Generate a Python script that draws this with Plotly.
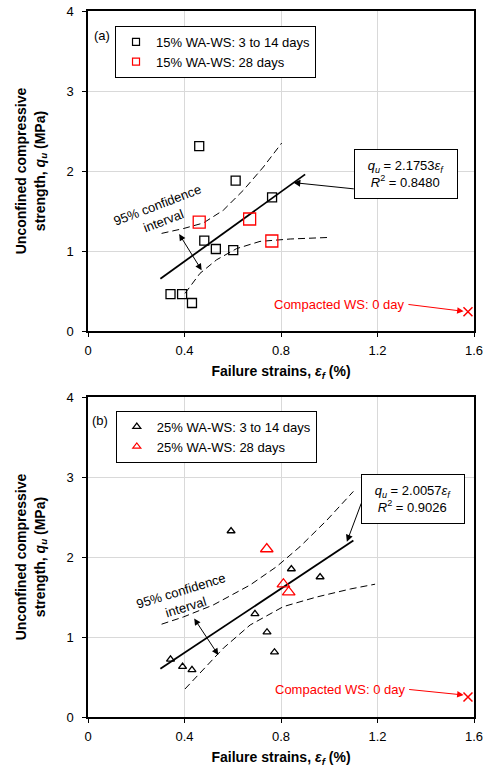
import plotly.graph_objects as go

# ---- Panel (a): 15% WA-WS ----
strain_a_early = [0.342, 0.39, 0.431, 0.482, 0.53, 0.602, 0.763, 0.612, 0.461]
qu_a_early = [0.46, 0.46, 0.35, 1.13, 1.025, 1.01, 1.67, 1.88, 2.31]
strain_a_28 = [0.461, 0.67, 0.762]
qu_a_28 = [1.36, 1.40, 1.125]
slope_a = 2.1753
r2_a = 0.8480
fit_a_range = [0.30, 0.90]
ci_a_upper_x = [0.305, 0.395, 0.478, 0.561, 0.644, 0.727, 0.803]
ci_a_upper_y = [1.22, 1.28, 1.35, 1.51, 1.76, 2.05, 2.35]
ci_a_lower_x = [0.402, 0.464, 0.533, 0.616, 0.713, 0.838, 1.004]
ci_a_lower_y = [0.47, 0.72, 0.89, 1.03, 1.12, 1.15, 1.17]

# ---- Panel (b): 25% WA-WS ----
strain_b_early = [0.342, 0.392, 0.431, 0.692, 0.742, 0.773, 0.593, 0.843, 0.962]
qu_b_early = [0.72, 0.63, 0.59, 1.29, 1.06, 0.81, 2.325, 1.85, 1.75]
strain_b_28 = [0.741, 0.81, 0.832]
qu_b_28 = [2.10, 1.66, 1.56]
slope_b = 2.0057
r2_b = 0.9026
fit_b_range = [0.30, 1.10]
ci_b_upper_x = [0.305, 0.395, 0.519, 0.672, 0.782, 0.879, 0.99, 1.10]
ci_b_upper_y = [1.16, 1.25, 1.40, 1.65, 1.88, 2.13, 2.46, 2.82]
ci_b_lower_x = [0.402, 0.478, 0.561, 0.672, 0.81, 0.948, 1.087, 1.19]
ci_b_lower_y = [0.35, 0.59, 0.86, 1.15, 1.38, 1.50, 1.60, 1.66]

# ---- Compacted WS at 0 day ----
strain_ws = [1.575]
qu_ws_a = [0.24]
qu_ws_b = [0.25]

x_ticks = [0, 0.4, 0.8, 1.2, 1.6]
y_ticks = [0, 1, 2, 3, 4]

FONT = "Liberation Sans, Arial, sans-serif"
DASH = "7px,4px"
FS = 13

fig = go.Figure()


def add_panel(xa, ya, legend, label, early_x, early_y, late_x, late_y,
              sym, size_early, size_late, slope, fit_rng,
              up_x, up_y, lo_x, lo_y, ws_y):
    # confidence band
    fig.add_trace(go.Scatter(x=up_x, y=up_y, mode="lines", xaxis=xa, yaxis=ya,
                             line=dict(color="black", width=1, dash=DASH),
                             showlegend=False, hoverinfo="skip"))
    fig.add_trace(go.Scatter(x=lo_x, y=lo_y, mode="lines", xaxis=xa, yaxis=ya,
                             line=dict(color="black", width=1, dash=DASH),
                             showlegend=False, hoverinfo="skip"))
    # regression line through origin
    fig.add_trace(go.Scatter(x=fit_rng, y=[slope * v for v in fit_rng], mode="lines",
                             xaxis=xa, yaxis=ya, line=dict(color="black", width=1.8),
                             showlegend=False))
    # measured data
    fig.add_trace(go.Scatter(x=early_x, y=early_y, mode="markers", xaxis=xa, yaxis=ya,
                             marker=dict(symbol=sym, size=size_early, color="black",
                                         line=dict(color="black", width=1.3)),
                             showlegend=False))
    fig.add_trace(go.Scatter(x=late_x, y=late_y, mode="markers", xaxis=xa, yaxis=ya,
                             marker=dict(symbol=sym, size=size_late, color="red",
                                         line=dict(color="red", width=1.3)),
                             showlegend=False))
    fig.add_trace(go.Scatter(x=strain_ws, y=ws_y, mode="markers", xaxis=xa, yaxis=ya,
                             marker=dict(symbol="x-thin-open", size=9, color="red",
                                         line=dict(color="red", width=1.5)),
                             showlegend=False))
    # legend entries
    for name, col in [(f"{label}: 3 to 14 days", "black"), (f"{label}: 28 days", "red")]:
        fig.add_trace(go.Scatter(x=[None], y=[None], mode="markers", xaxis=xa, yaxis=ya,
                                 name=name, legend=legend,
                                 marker=dict(symbol=sym, size=7, color=col,
                                             line=dict(color=col, width=1.2))))


add_panel("x", "y", "legend", "15% WA-WS", strain_a_early, qu_a_early, strain_a_28, qu_a_28,
          "square-open", 9, 12, slope_a, fit_a_range,
          ci_a_upper_x, ci_a_upper_y, ci_a_lower_x, ci_a_lower_y, qu_ws_a)
add_panel("x2", "y2", "legend2", "25% WA-WS", strain_b_early, qu_b_early, strain_b_28, qu_b_28,
          "triangle-up-open", 7, 11, slope_b, fit_b_range,
          ci_b_upper_x, ci_b_upper_y, ci_b_lower_x, ci_b_lower_y, qu_ws_b)

axis_common = dict(range=[0, 1.6], tickvals=x_ticks, showgrid=True, gridcolor="#d9d9d9",
                   gridwidth=1, zeroline=False, showline=True, linecolor="black",
                   linewidth=1.5, mirror=True, ticks="outside", ticklen=4,
                   tickcolor="black", tickfont=dict(size=FS, color="black"),
                   ticklabelstandoff=3, automargin=False)
yaxis_common = dict(range=[0, 4], tickvals=y_ticks, showgrid=True, gridcolor="#d9d9d9",
                    gridwidth=1, zeroline=False, showline=True, linecolor="black",
                    linewidth=1.5, mirror=True, ticks="outside", ticklen=4,
                    tickcolor="black", tickfont=dict(size=FS, color="black"),
                    ticklabelstandoff=6, automargin=False)
x_title = dict(text="<b>Failure strains, <i>ε<sub>f</sub></i> (%)</b>",
               font=dict(size=14, color="black"), standoff=9)
y_title = dict(text="<b>Unconfined compressive<br>strength, <i>q<sub>u</sub></i> (MPa)</b>",
               font=dict(size=14, color="black"), standoff=18)

top_dom = [386 / 706, 1]
bot_dom = [0, 320 / 706]

legend_common = dict(xanchor="left", yanchor="top", bgcolor="white",
                     bordercolor="black", borderwidth=1, font=dict(size=FS, color="black"),
                     tracegroupgap=0)

fig.update_layout(
    width=492, height=769,
    margin=dict(l=88, r=18, t=11, b=52, autoexpand=False),
    paper_bgcolor="white", plot_bgcolor="white",
    font=dict(family=FONT, color="black"),
    xaxis=dict(axis_common, domain=[0, 1], anchor="y", title=x_title),
    yaxis=dict(yaxis_common, domain=top_dom, anchor="x", title=y_title),
    xaxis2=dict(axis_common, domain=[0, 1], anchor="y2", title=x_title),
    yaxis2=dict(yaxis_common, domain=bot_dom, anchor="x2", title=y_title),
    legend=dict(legend_common, x=0.07, y=0.979),
    legend2=dict(legend_common, x=0.072, y=0.434),
)


def panel_notes(xa, ya, tag, slope, r2, box_xy, arr_from, arr_to,
                ci_xy, ci_angle, dbl_from, dbl_to, ws_text_xy, ws_tip):
    dom = f"{xa} domain"
    ydom = f"{ya} domain"
    fig.add_annotation(xref=dom, yref=ydom, x=tag[1], y=tag[2], text=tag[0],
                       showarrow=False, font=dict(size=FS), xanchor="center", yanchor="middle")
    # equation box
    fig.add_annotation(xref=xa, yref=ya, x=box_xy[0], y=box_xy[1],
                       text=(f"<i>q<sub>u</sub></i> = {slope:.4f}<i>ε<sub>f</sub></i><br>"
                             f"<i>R</i><sup>2</sup> = {r2:.4f}"),
                       showarrow=False, bgcolor="white", bordercolor="black", borderwidth=1,
                       borderpad=4, width=94, height=40, font=dict(size=FS), align="center")
    fig.add_annotation(xref=xa, yref=ya, axref=xa, ayref=ya, x=arr_to[0], y=arr_to[1],
                       ax=arr_from[0], ay=arr_from[1], text="", showarrow=True,
                       arrowhead=2, arrowsize=1.4, arrowwidth=1, arrowcolor="black")
    # confidence band label and double arrow
    fig.add_annotation(xref=xa, yref=ya, x=ci_xy[0], y=ci_xy[1],
                       text="95% confidence<br>interval", showarrow=False,
                       textangle=ci_angle, font=dict(size=FS), align="center")
    fig.add_annotation(xref=xa, yref=ya, axref=xa, ayref=ya, x=dbl_to[0], y=dbl_to[1],
                       ax=dbl_from[0], ay=dbl_from[1], text="", showarrow=True,
                       arrowhead=2, startarrowhead=2, arrowside="end+start",
                       arrowsize=1.3, startarrowsize=1.3, arrowwidth=1, arrowcolor="black")
    # compacted WS note
    fig.add_annotation(xref=xa, yref=ya, x=ws_text_xy[0], y=ws_text_xy[1],
                       text="Compacted WS: 0 day", showarrow=False, xanchor="right",
                       yanchor="middle", font=dict(size=FS, color="red"))
    fig.add_annotation(xref=xa, yref=ya, axref=xa, ayref=ya, x=ws_tip[0], y=ws_tip[1],
                       ax=ws_text_xy[0], ay=ws_text_xy[1], text="", showarrow=True,
                       arrowhead=2, arrowsize=1.3, arrowwidth=1, arrowcolor="red")


panel_notes("x", "y", ("(a)", 0.036, 0.923), slope_a, r2_a, (1.32, 1.96),
            (1.108, 1.775), (0.851, 1.855), (0.30, 1.48), -21,
            (0.374, 1.23), (0.471, 0.76), (1.322, 0.334), (1.557, 0.246))
panel_notes("x2", "y2", ("(b)", 0.031, 0.928), slope_b, r2_b, (1.346, 2.73),
            (1.135, 2.69), (1.073, 2.19), (0.395, 1.48), -17,
            (0.436, 1.25), (0.54, 0.775), (1.325, 0.346), (1.557, 0.275))

fig.write_html("out.html")
